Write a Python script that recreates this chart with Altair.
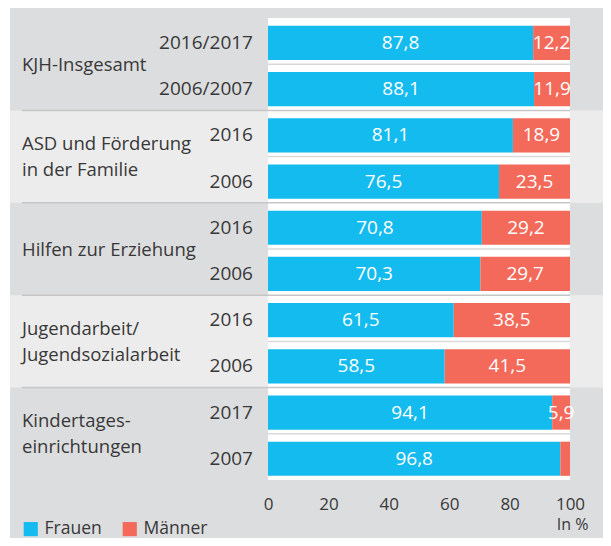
import altair as alt
import pandas as pd

groups = ["KJH-Insgesamt", "ASD und Förderung\nin der Familie", "Hilfen zur Erziehung",
          "Jugendarbeit/\nJugendsozialarbeit", "Kindertages-\neinrichtungen"]
years = ["2016/2017", "2006/2007", "2016", "2006", "2016", "2006", "2016", "2006", "2017", "2007"]
frauen = [87.8, 88.1, 81.1, 76.5, 70.8, 70.3, 61.5, 58.5, 94.1, 96.8]
maenner = [12.2, 11.9, 18.9, 23.5, 29.2, 29.7, 38.5, 41.5, 5.9, 3.2]
ticks = [0, 20, 40, 60, 80, 100]

BLUE = "#14bbee"
RED = "#f3695a"
DARK = "#dcdddf"
LIGHT = "#ececec"
FONT = "Open Sans"
TXT = "#383838"

rows = []
segs = []
for i, (yr, f, m) in enumerate(zip(years, frauen, maenner)):
    rows.append({"i": i, "year": yr, "yc": i + 0.54, "b0": i + 0.17, "b1": i + 0.91})
    segs.append({"i": i, "sex": "Frauen", "start": 0, "end": f, "val": f,
                 "lbl": f"{f:.1f}".replace(".", ","), "mid": f / 2,
                 "yc": i + 0.54, "b0": i + 0.17, "b1": i + 0.91})
    segs.append({"i": i, "sex": "Männer", "start": f, "end": 100, "val": m,
                 "lbl": f"{m:.1f}".replace(".", ",") if m >= 5 else "", "mid": (f + 100) / 2,
                 "yc": i + 0.54, "b0": i + 0.17, "b1": i + 0.91})
rows_df = pd.DataFrame(rows)
seg_df = pd.DataFrame(segs)

grp_df = pd.DataFrame([{"g": g, "label": lab, "y0": 2 * g, "y1": 2 * g + 2,
                        "ym": 2 * g + 1.02 - lab.count("\n") * 0.29,
                        "light": g % 2 == 1} for g, lab in enumerate(groups)])
light_df = grp_df[grp_df["light"]]
border_df = pd.DataFrame({"y": [2, 4, 6, 8]})
inner_df = pd.DataFrame({"y": [1, 3, 5, 7, 9]})
plot_df = pd.DataFrame([{"x0": 0, "x1": 100, "y0": 0, "y1": 10}])

xs = alt.Scale(domain=[0, 100], nice=False, zero=False)
ys = alt.Scale(domain=[0, 10], reverse=True, nice=False, zero=False)

bg = alt.Chart(plot_df).mark_rect(color=DARK).encode(
    x=alt.value(-258), x2=alt.value(343), y=alt.value(-10), y2=alt.value(528))

band_left = alt.Chart(light_df).mark_rect(color=LIGHT).encode(
    x=alt.value(-258), x2=alt.value(0),
    y=alt.Y("y0:Q", scale=ys, axis=None), y2="y1:Q")
band_right = alt.Chart(light_df).mark_rect(color=LIGHT).encode(
    x=alt.value(302), x2=alt.value(343),
    y=alt.Y("y0:Q", scale=ys, axis=None), y2="y1:Q")

xaxis = alt.Axis(values=ticks, title="In %", domain=False, ticks=False, grid=False, zindex=2,
                 labelFontSize=17, labelColor=TXT, labelFont=FONT, labelPadding=16,
                 labelFlush=False,
                 titleFontSize=16, titleFont=FONT, titleFontWeight="normal",
                 titleColor=TXT, titleAlign="right", titleX=320, titleY=44,
                 titleBaseline="middle")

white = alt.Chart(plot_df).mark_rect(color="white").encode(
    x=alt.X("x0:Q", scale=xs, axis=xaxis), x2="x1:Q",
    y=alt.Y("y0:Q", scale=ys, axis=None), y2="y1:Q")

inner = alt.Chart(inner_df).mark_rule(color="#d9d9d9", strokeWidth=1.5).encode(
    x=alt.value(0), x2=alt.value(302), y=alt.Y("y:Q", scale=ys, axis=None))
border = alt.Chart(border_df).mark_rule(color="#c6c6c6", strokeWidth=1.5).encode(
    x=alt.value(-246), x2=alt.value(302), y=alt.Y("y:Q", scale=ys, axis=None))

bars = alt.Chart(seg_df).mark_rect().encode(
    x=alt.X("start:Q", scale=xs, axis=xaxis),
    x2="end:Q",
    y=alt.Y("b0:Q", scale=ys, axis=None), y2="b1:Q",
    color=alt.Color("sex:N", scale=alt.Scale(domain=["Frauen", "Männer"], range=[BLUE, RED]),
                    legend=alt.Legend(title=None, orient="none", direction="horizontal",
                                      legendX=-246, legendY=502, symbolType="square",
                                      symbolSize=200, symbolStrokeWidth=0, labelFontSize=17.5,
                                      labelFont=FONT, labelColor=TXT, columnPadding=19,
                                      labelOffset=5, padding=0, zindex=2)))

vals = alt.Chart(seg_df).mark_text(color="white", fontSize=19, font=FONT, baseline="middle",
                                   align="center").encode(
    x=alt.X("mid:Q", scale=xs), y=alt.Y("yc:Q", scale=ys, axis=None), text="lbl:N")

yrs = alt.Chart(rows_df).mark_text(color=TXT, fontSize=19, font=FONT, baseline="middle",
                                   align="right").encode(
    x=alt.value(-15), y=alt.Y("yc:Q", scale=ys, axis=None), text="year:N")

glabs = alt.Chart(grp_df).mark_text(color=TXT, fontSize=18.5, font=FONT, baseline="middle",
                                    align="left", lineBreak="\n", lineHeight=26).encode(
    x=alt.value(-246), y=alt.Y("ym:Q", scale=ys, axis=None), text="label:N")

chart = alt.layer(bg, band_left, band_right, white, inner, border, bars, vals, yrs, glabs).properties(
    width=302, height=462,
    autosize=alt.AutoSizeParams(type="none"),
    padding={"left": 260, "top": 10, "right": 33, "bottom": 58},
    background="white",
).configure_view(stroke=None)

chart.save("out.html", embed_options={"renderer": "svg", "actions": False})
